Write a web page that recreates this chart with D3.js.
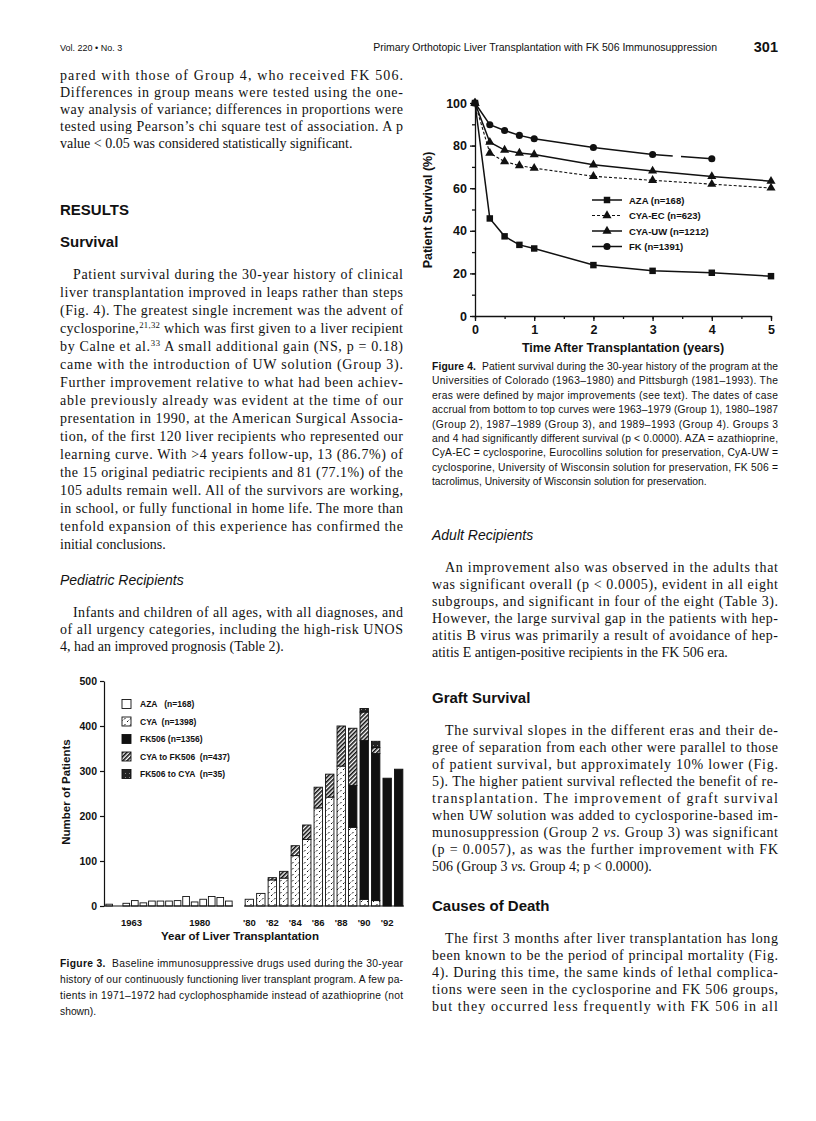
<!DOCTYPE html>
<html lang="en">
<meta charset="utf-8">
<title>Liver transplantation page 301</title>
<script src="https://d3js.org/d3.v7.min.js"></script>
<style>
  body { margin: 0; background: #fff; }
  svg text { fill: #111; }
  .sans { font-family: "Liberation Sans", Arial, sans-serif; }
  .serif { font-family: "Liberation Serif", "Times New Roman", serif; }
</style>
<body>
<svg width="816" height="1121"></svg>
<script>
// ---- Figure 4 data: patient survival (%) by era ----
var survTimes = [0, 0.25, 0.5, 0.75, 1, 2, 3, 4, 5];
var azaSurv   = [100, 45.8, 37.4, 33.4, 31.7, 23.9, 21.2, 20.3, 18.7];
var cyaEcSurv = [100, 76.5, 72.5, 70.6, 69.4, 65.6, 63.7, 61.9, 60.1];
var cyaUwSurv = [100, 81.6, 77.9, 76.5, 75.8, 71.0, 68.1, 65.5, 63.3];
var fkSurv    = [100, 89.8, 87.1, 84.8, 83.2, 79.1, 75.8, 73.8, null];
var survTicksY = [0, 20, 40, 60, 80, 100];
var survTicksX = [0, 1, 2, 3, 4, 5];

// ---- Figure 3 data: patients per year by baseline drug ----
var earlyCats = ["E1","E2","E3","E4","E5","E6","E7","E8","E9","E10","E11","E12","E13","E14","E15"];
var earlyAza  = [4, 0, 6, 12, 7, 11, 11, 11, 12, 21, 9, 15, 21, 19, 11];
var earlyTicks = [["E4", "1963"], ["E12", "1980"]];

var lateCats     = ["'80","'81","'82","'83","'84","'85","'86","'87","'88","'89","'90","'91","'92","'93"];
var lateCya      = [15, 28, 58, 62, 112, 148, 218, 242, 311, 175, 15, 12, 0, 0];
var lateFk       = [0, 0, 0, 0, 0, 0, 0, 0, 0, 93, 353, 327, 284, 304];
var lateCyaToFk  = [0, 0, 5, 15, 22, 32, 46, 51, 89, 127, 63, 13, 0, 0];
var lateFkToCya  = [0, 0, 0, 0, 0, 0, 0, 0, 0, 0, 8, 14, 0, 0];
var lateTicks    = ["'80","'82","'84","'86","'88","'90","'92"];
var barTicksY    = [0, 100, 200, 300, 400, 500];

var drugKeys   = ["aza", "cya", "fk", "cyaToFk", "fkToCya"];
var drugLabels = ["AZA   (n=168)", "CYA  (n=1398)", "FK506 (n=1356)", "CYA to FK506  (n=437)", "FK506 to CYA  (n=35)"];

// ---- page text ----
var leftTop = [
  "pared with those of Group 4, who received FK 506.",
  "Differences in group means were tested using the one-",
  "way analysis of variance; differences in proportions were",
  "tested using Pearson\u2019s chi square test of association. A p",
  "value < 0.05 was considered statistically significant."
];
var survivalPara = [
  "Patient survival during the 30-year history of clinical",
  "liver transplantation improved in leaps rather than steps",
  "(Fig. 4). The greatest single increment was the advent of",
  "cyclosporine,^{21,32} which was first given to a liver recipient",
  "by Calne et al.^{33} A small additional gain (NS, p = 0.18)",
  "came with the introduction of UW solution (Group 3).",
  "Further improvement relative to what had been achiev-",
  "able previously already was evident at the time of our",
  "presentation in 1990, at the American Surgical Associa-",
  "tion, of the first 120 liver recipients who represented our",
  "learning curve. With >4 years follow-up, 13 (86.7%) of",
  "the 15 original pediatric recipients and 81 (77.1%) of the",
  "105 adults remain well. All of the survivors are working,",
  "in school, or fully functional in home life. The more than",
  "tenfold expansion of this experience has confirmed the",
  "initial conclusions."
];
var pediatricPara = [
  "Infants and children of all ages, with all diagnoses, and",
  "of all urgency categories, including the high-risk UNOS",
  "4, had an improved prognosis (Table 2)."
];
var adultPara = [
  "An improvement also was observed in the adults that",
  "was significant overall (p < 0.0005), evident in all eight",
  "subgroups, and significant in four of the eight (Table 3).",
  "However, the large survival gap in the patients with hep-",
  "atitis B virus was primarily a result of avoidance of hep-",
  "atitis E antigen-positive recipients in the FK 506 era."
];
var graftPara = [
  "The survival slopes in the different eras and their de-",
  "gree of separation from each other were parallel to those",
  "of patient survival, but approximately 10% lower (Fig.",
  "5). The higher patient survival reflected the benefit of re-",
  "transplantation. The improvement of graft survival",
  "when UW solution was added to cyclosporine-based im-",
  "munosuppression (Group 2 _{vs.} Group 3) was significant",
  "(p = 0.0057), as was the further improvement with FK",
  "506 (Group 3 _{vs.} Group 4; p < 0.0000)."
];
var deathPara = [
  "The first 3 months after liver transplantation has long",
  "been known to be the period of principal mortality (Fig.",
  "4). During this time, the same kinds of lethal complica-",
  "tions were seen in the cyclosporine and FK 506 groups,",
  "but they occurred less frequently with FK 506 in all"
];
var fig4Caption = [
  "*{Figure 4.}  Patient survival during the 30-year history of the program at the",
  "Universities of Colorado (1963\u20131980) and Pittsburgh (1981\u20131993). The",
  "eras were defined by major improvements (see text). The dates of case",
  "accrual from bottom to top curves were 1963\u20131979 (Group 1), 1980\u20131987",
  "(Group 2), 1987\u20131989 (Group 3), and 1989\u20131993 (Group 4). Groups 3",
  "and 4 had significantly different survival (p < 0.0000). AZA = azathioprine,",
  "CyA-EC = cyclosporine, Eurocollins solution for preservation, CyA-UW =",
  "cyclosporine, University of Wisconsin solution for preservation, FK 506 =",
  "tacrolimus, University of Wisconsin solution for preservation."
];
var fig3Caption = [
  "*{Figure 3.}  Baseline immunosuppressive drugs used during the 30-year",
  "history of our continuously functioning liver transplant program. A few pa-",
  "tients in 1971\u20131972 had cyclophosphamide instead of azathioprine (not",
  "shown)."
];

var svg = d3.select("svg");

// writes one line, with ^{sup}, _{italic}, *{bold} markup
function writeLine(g, str, x, y, cls, size, width) {
  var t = g.append("text").attr("class", cls).attr("x", x).attr("y", y)
    .attr("font-size", size).attr("xml:space", "preserve");
  var parts = str.split(/(\^\{[^}]*\}|_\{[^}]*\}|\*\{[^}]*\})/);
  var shifted = false;
  parts.forEach(function(p) {
    if (!p) return;
    var ts = t.append("tspan");
    if (shifted) { ts.attr("dy", size * 0.38); shifted = false; }
    if (p[0] == "^" && p[1] == "{") {
      ts.text(p.slice(2, -1)).attr("font-size", size * 0.62).attr("dy", -size * 0.38);
      shifted = true;
    } else if (p[0] == "_" && p[1] == "{") {
      ts.text(p.slice(2, -1)).attr("font-style", "italic");
    } else if (p[0] == "*" && p[1] == "{") {
      ts.text(p.slice(2, -1)).attr("font-weight", "bold");
    } else ts.text(p);
  });
  if (width) t.attr("textLength", width).attr("lengthAdjust", "spacing");
  return t;
}

// justified paragraph; last line left ragged unless runOn
function paragraph(lines, x, y, lh, colW, opt) {
  opt = opt || {};
  var g = svg.append("g");
  lines.forEach(function(l, i) {
    var ind = (i == 0 && opt.indent) ? opt.indent : 0;
    var last = i == lines.length - 1 && !opt.runOn;
    writeLine(g, l, x + ind, y + i * lh, opt.cls || "serif", opt.size || 14, last ? null : colW - ind);
  });
}

function heading(str, x, y, size, italic) {
  svg.append("text").attr("class", "sans").attr("x", x).attr("y", y)
    .attr("font-size", size).attr("font-weight", italic ? "normal" : "bold")
    .attr("font-style", italic ? "italic" : "normal").text(str);
}

// ---- running head ----
svg.append("text").attr("class", "sans").attr("x", 60).attr("y", 51).attr("font-size", 9).text("Vol. 220 \u2022 No. 3");
svg.append("text").attr("class", "sans").attr("x", 717).attr("y", 51).attr("font-size", 10.5)
  .attr("text-anchor", "end").text("Primary Orthotopic Liver Transplantation with FK 506 Immunosuppression");
svg.append("text").attr("class", "sans").attr("x", 778).attr("y", 52).attr("font-size", 14.5)
  .attr("font-weight", "bold").attr("text-anchor", "end").text("301");

// ---- left column text ----
var LX = 60, LW = 343;
paragraph(leftTop, LX, 80, 17, LW);
heading("RESULTS", LX, 215, 15);
heading("Survival", LX, 247, 15);
paragraph(survivalPara, LX, 279, 18, LW, {indent: 13});
heading("Pediatric Recipients", LX, 585, 14, true);
paragraph(pediatricPara, LX, 617, 17, LW, {indent: 13});

// ---- right column text ----
var RX = 432, RW = 346, RH = 17;
paragraph(fig4Caption, RX, 370, 14.4, RW, {cls: "sans", size: 10.3});
heading("Adult Recipients", RX, 540, 14, true);
paragraph(adultPara, RX, 572, RH, RW, {indent: 13});
heading("Graft Survival", RX, 703, 15);
paragraph(graftPara, RX, 735, RH, RW, {indent: 13});
heading("Causes of Death", RX, 911, 15);
paragraph(deathPara, RX, 943, RH, RW, {indent: 13, runOn: true});

paragraph(fig3Caption, LX, 967, 16, LW, {cls: "sans", size: 10.3});

// ================= Figure 4: survival curves =================
var sx = d3.scaleLinear().domain([0, 5]).range([475, 771]);
var sy = d3.scaleLinear().domain([0, 100]).range([316, 103]);
var f4 = svg.append("g").attr("class", "sans");

f4.append("g").attr("transform", "translate(475,0)")
  .call(d3.axisLeft(sy).tickValues(d3.range(0, 101, 10)).tickSize(3).tickFormat(""))
  .call(function(a) { a.select(".domain").remove(); });
var yAx = f4.append("g").attr("transform", "translate(475,0)")
  .call(d3.axisLeft(sy).tickValues(survTicksY).tickSize(5).tickSizeOuter(0).tickPadding(3));
f4.append("g").attr("transform", "translate(0,316)")
  .call(d3.axisBottom(sx).tickValues(d3.range(0, 5.01, 0.5)).tickSize(3).tickFormat(""))
  .call(function(a) { a.select(".domain").remove(); });
var xAx = f4.append("g").attr("transform", "translate(0,316)")
  .call(d3.axisBottom(sx).tickValues(survTicksX).tickFormat(d3.format("d")).tickSize(5).tickSizeOuter(0).tickPadding(4));
f4.selectAll(".domain, .tick line").attr("stroke", "#111").attr("stroke-width", 1.3);
[yAx, xAx].forEach(function(a) {
  a.selectAll("text").attr("font-family", "Liberation Sans, Arial, sans-serif")
    .attr("font-size", 12.5).attr("font-weight", "bold").attr("fill", "#111");
});

f4.append("text").attr("x", 623).attr("y", 352).attr("text-anchor", "middle")
  .attr("font-size", 12.5).attr("font-weight", "bold").text("Time After Transplantation (years)");
f4.append("text").attr("transform", "translate(432,210) rotate(-90)").attr("text-anchor", "middle")
  .attr("font-size", 12.5).attr("font-weight", "bold").text("Patient Survival (%)");

var curves = [
  {name: "AZA (n=168)",     vals: azaSurv,   marker: "square",   dash: null},
  {name: "CYA-EC (n=623)",  vals: cyaEcSurv, marker: "triangle", dash: "3,2"},
  {name: "CYA-UW (n=1212)", vals: cyaUwSurv, marker: "triangle", dash: null},
  {name: "FK (n=1391)",     vals: fkSurv,    marker: "circle",   dash: null}
];
var markerSym = {square: d3.symbolSquare, triangle: d3.symbolTriangle, circle: d3.symbolCircle};
var markerSize = {square: 42, triangle: 36, circle: 40};

var line = d3.line().defined(function(d) { return d[1] != null; })
  .x(function(d) { return sx(d[0]); }).y(function(d) { return sy(d[1]); });

curves.forEach(function(c) {
  var pts = survTimes.map(function(t, i) { return [t, c.vals[i]]; }).filter(function(d) { return d[1] != null; });
  if (c.name.indexOf("FK") == 0) {
    // FK curve has a short break between 3 and 4 years
    var head = pts.slice(0, pts.length - 1);
    f4.append("path").attr("d", line(head)).attr("fill", "none").attr("stroke", "#111").attr("stroke-width", 1.5);
    var a = pts[pts.length - 2], b = pts[pts.length - 1];
    var len = Math.hypot(sx(b[0]) - sx(a[0]), sy(b[1]) - sy(a[1]));
    f4.append("path").attr("d", line([a, b])).attr("fill", "none").attr("stroke", "#111").attr("stroke-width", 1.5)
      .attr("stroke-dasharray", (len * 0.34) + "," + (len * 0.14) + "," + len);
  } else {
    f4.append("path").attr("d", line(pts)).attr("fill", "none").attr("stroke", "#111")
      .attr("stroke-width", c.dash ? 1.1 : 1.5).attr("stroke-dasharray", c.dash);
  }
  f4.selectAll(null).data(pts).enter().append("path")
    .attr("transform", function(d) { return "translate(" + sx(d[0]) + "," + sy(d[1]) + ")"; })
    .attr("d", d3.symbol().type(markerSym[c.marker]).size(markerSize[c.marker])).attr("fill", "#111");
});

// legend
var lg = f4.append("g");
curves.forEach(function(c, i) {
  var y = 200 + i * 15.5;
  lg.append("line").attr("x1", 592).attr("x2", 622).attr("y1", y).attr("y2", y)
    .attr("stroke", "#111").attr("stroke-width", c.dash ? 1.1 : 1.5).attr("stroke-dasharray", c.dash);
  lg.append("path").attr("transform", "translate(607," + y + ")")
    .attr("d", d3.symbol().type(markerSym[c.marker]).size(markerSize[c.marker])).attr("fill", "#111");
  lg.append("text").attr("x", 629).attr("y", y + 3.5).attr("font-size", 9.5).attr("font-weight", "bold").text(c.name);
});

// ================= Figure 3: stacked bars =================
var defs = svg.append("defs");
var pCya = defs.append("pattern").attr("id", "pCya").attr("patternUnits", "userSpaceOnUse").attr("width", 6).attr("height", 6);
pCya.append("rect").attr("width", 6).attr("height", 6).attr("fill", "#fff");
pCya.append("path").attr("d", "M1,2 L2.5,0.5 M4,5.5 L5.5,4").attr("stroke", "#111").attr("stroke-width", 1);
var pHatch = defs.append("pattern").attr("id", "pHatch").attr("patternUnits", "userSpaceOnUse")
  .attr("width", 3).attr("height", 3).attr("patternTransform", "rotate(-45)");
pHatch.append("rect").attr("width", 3).attr("height", 3).attr("fill", "#fff");
pHatch.append("rect").attr("width", 3).attr("height", 1.6).attr("fill", "#111");
var pFkCya = defs.append("pattern").attr("id", "pFkCya").attr("patternUnits", "userSpaceOnUse").attr("width", 4).attr("height", 4);
pFkCya.append("rect").attr("width", 4).attr("height", 4).attr("fill", "#222");
pFkCya.append("rect").attr("x", 1).attr("y", 1).attr("width", 1).attr("height", 1).attr("fill", "#888");

var drugFill = {aza: "#fff", cya: "url(#pCya)", fk: "#111", cyaToFk: "url(#pHatch)", fkToCya: "url(#pFkCya)"};

var by = d3.scaleLinear().domain([0, 500]).range([906, 681]);
var bxEarly = d3.scaleBand().domain(earlyCats).range([105, 233]).paddingInner(0.22).paddingOuter(0.1);
var bxLate = d3.scaleBand().domain(lateCats).range([244, 404]).paddingInner(0.27).paddingOuter(0.1);

var f3 = svg.append("g").attr("class", "sans");

var earlyRows = earlyCats.map(function(c, i) { return {cat: c, aza: earlyAza[i], cya: 0, fk: 0, cyaToFk: 0, fkToCya: 0}; });
var lateRows = lateCats.map(function(c, i) {
  return {cat: c, aza: 0, cya: lateCya[i], fk: lateFk[i], cyaToFk: lateCyaToFk[i], fkToCya: lateFkToCya[i]};
});
var stack = d3.stack().keys(drugKeys);

function drawBars(rows, bx) {
  stack(rows).forEach(function(layer) {
    f3.selectAll(null).data(layer.filter(function(d) { return d[1] > d[0]; })).enter().append("rect")
      .attr("x", function(d) { return bx(d.data.cat); })
      .attr("width", bx.bandwidth())
      .attr("y", function(d) { return by(d[1]); })
      .attr("height", function(d) { return by(d[0]) - by(d[1]); })
      .attr("fill", drugFill[layer.key]).attr("stroke", "#111").attr("stroke-width", 0.9);
  });
}
drawBars(earlyRows, bxEarly);
drawBars(lateRows, bxLate);

var bAx = f3.append("g").attr("transform", "translate(104,0)")
  .call(d3.axisLeft(by).tickValues(barTicksY).tickSize(4).tickSizeOuter(0).tickPadding(3));
bAx.selectAll(".domain, .tick line").attr("stroke", "#111").attr("stroke-width", 1.2);
bAx.selectAll("text").attr("font-family", "Liberation Sans, Arial, sans-serif")
  .attr("font-size", 10.5).attr("font-weight", "bold").attr("fill", "#111");

// broken baseline
f3.append("line").attr("x1", 104).attr("x2", bxEarly.range()[1]).attr("y1", by(0)).attr("y2", by(0)).attr("stroke", "#111").attr("stroke-width", 1.2);
f3.append("line").attr("x1", bxLate.range()[0]).attr("x2", bxLate.range()[1]).attr("y1", by(0)).attr("y2", by(0)).attr("stroke", "#111").attr("stroke-width", 1.2);

earlyTicks.forEach(function(t) {
  f3.append("text").attr("x", bxEarly(t[0])).attr("y", 926).attr("text-anchor", "middle")
    .attr("font-size", 9.5).attr("font-weight", "bold").text(t[1]);
});
lateTicks.forEach(function(t) {
  f3.append("text").attr("x", bxLate(t) + bxLate.bandwidth() / 2).attr("y", 926).attr("text-anchor", "middle")
    .attr("font-size", 9.5).attr("font-weight", "bold").text(t);
});

f3.append("text").attr("x", 240).attr("y", 940).attr("text-anchor", "middle")
  .attr("font-size", 11.5).attr("font-weight", "bold").text("Year of Liver Transplantation");
f3.append("text").attr("transform", "translate(70,792) rotate(-90)").attr("text-anchor", "middle")
  .attr("font-size", 11.5).attr("font-weight", "bold").text("Number of Patients");

// legend
drugKeys.forEach(function(k, i) {
  var y = 704 + i * 17.5;
  f3.append("rect").attr("x", 122).attr("y", y - 4.5).attr("width", 9).attr("height", 9)
    .attr("fill", drugFill[k]).attr("stroke", "#111").attr("stroke-width", 0.9);
  f3.append("text").attr("x", 140).attr("y", y + 3).attr("font-size", 8.5).attr("font-weight", "bold")
    .attr("xml:space", "preserve").text(drugLabels[i]);
});
</script>
</body>
</html>
